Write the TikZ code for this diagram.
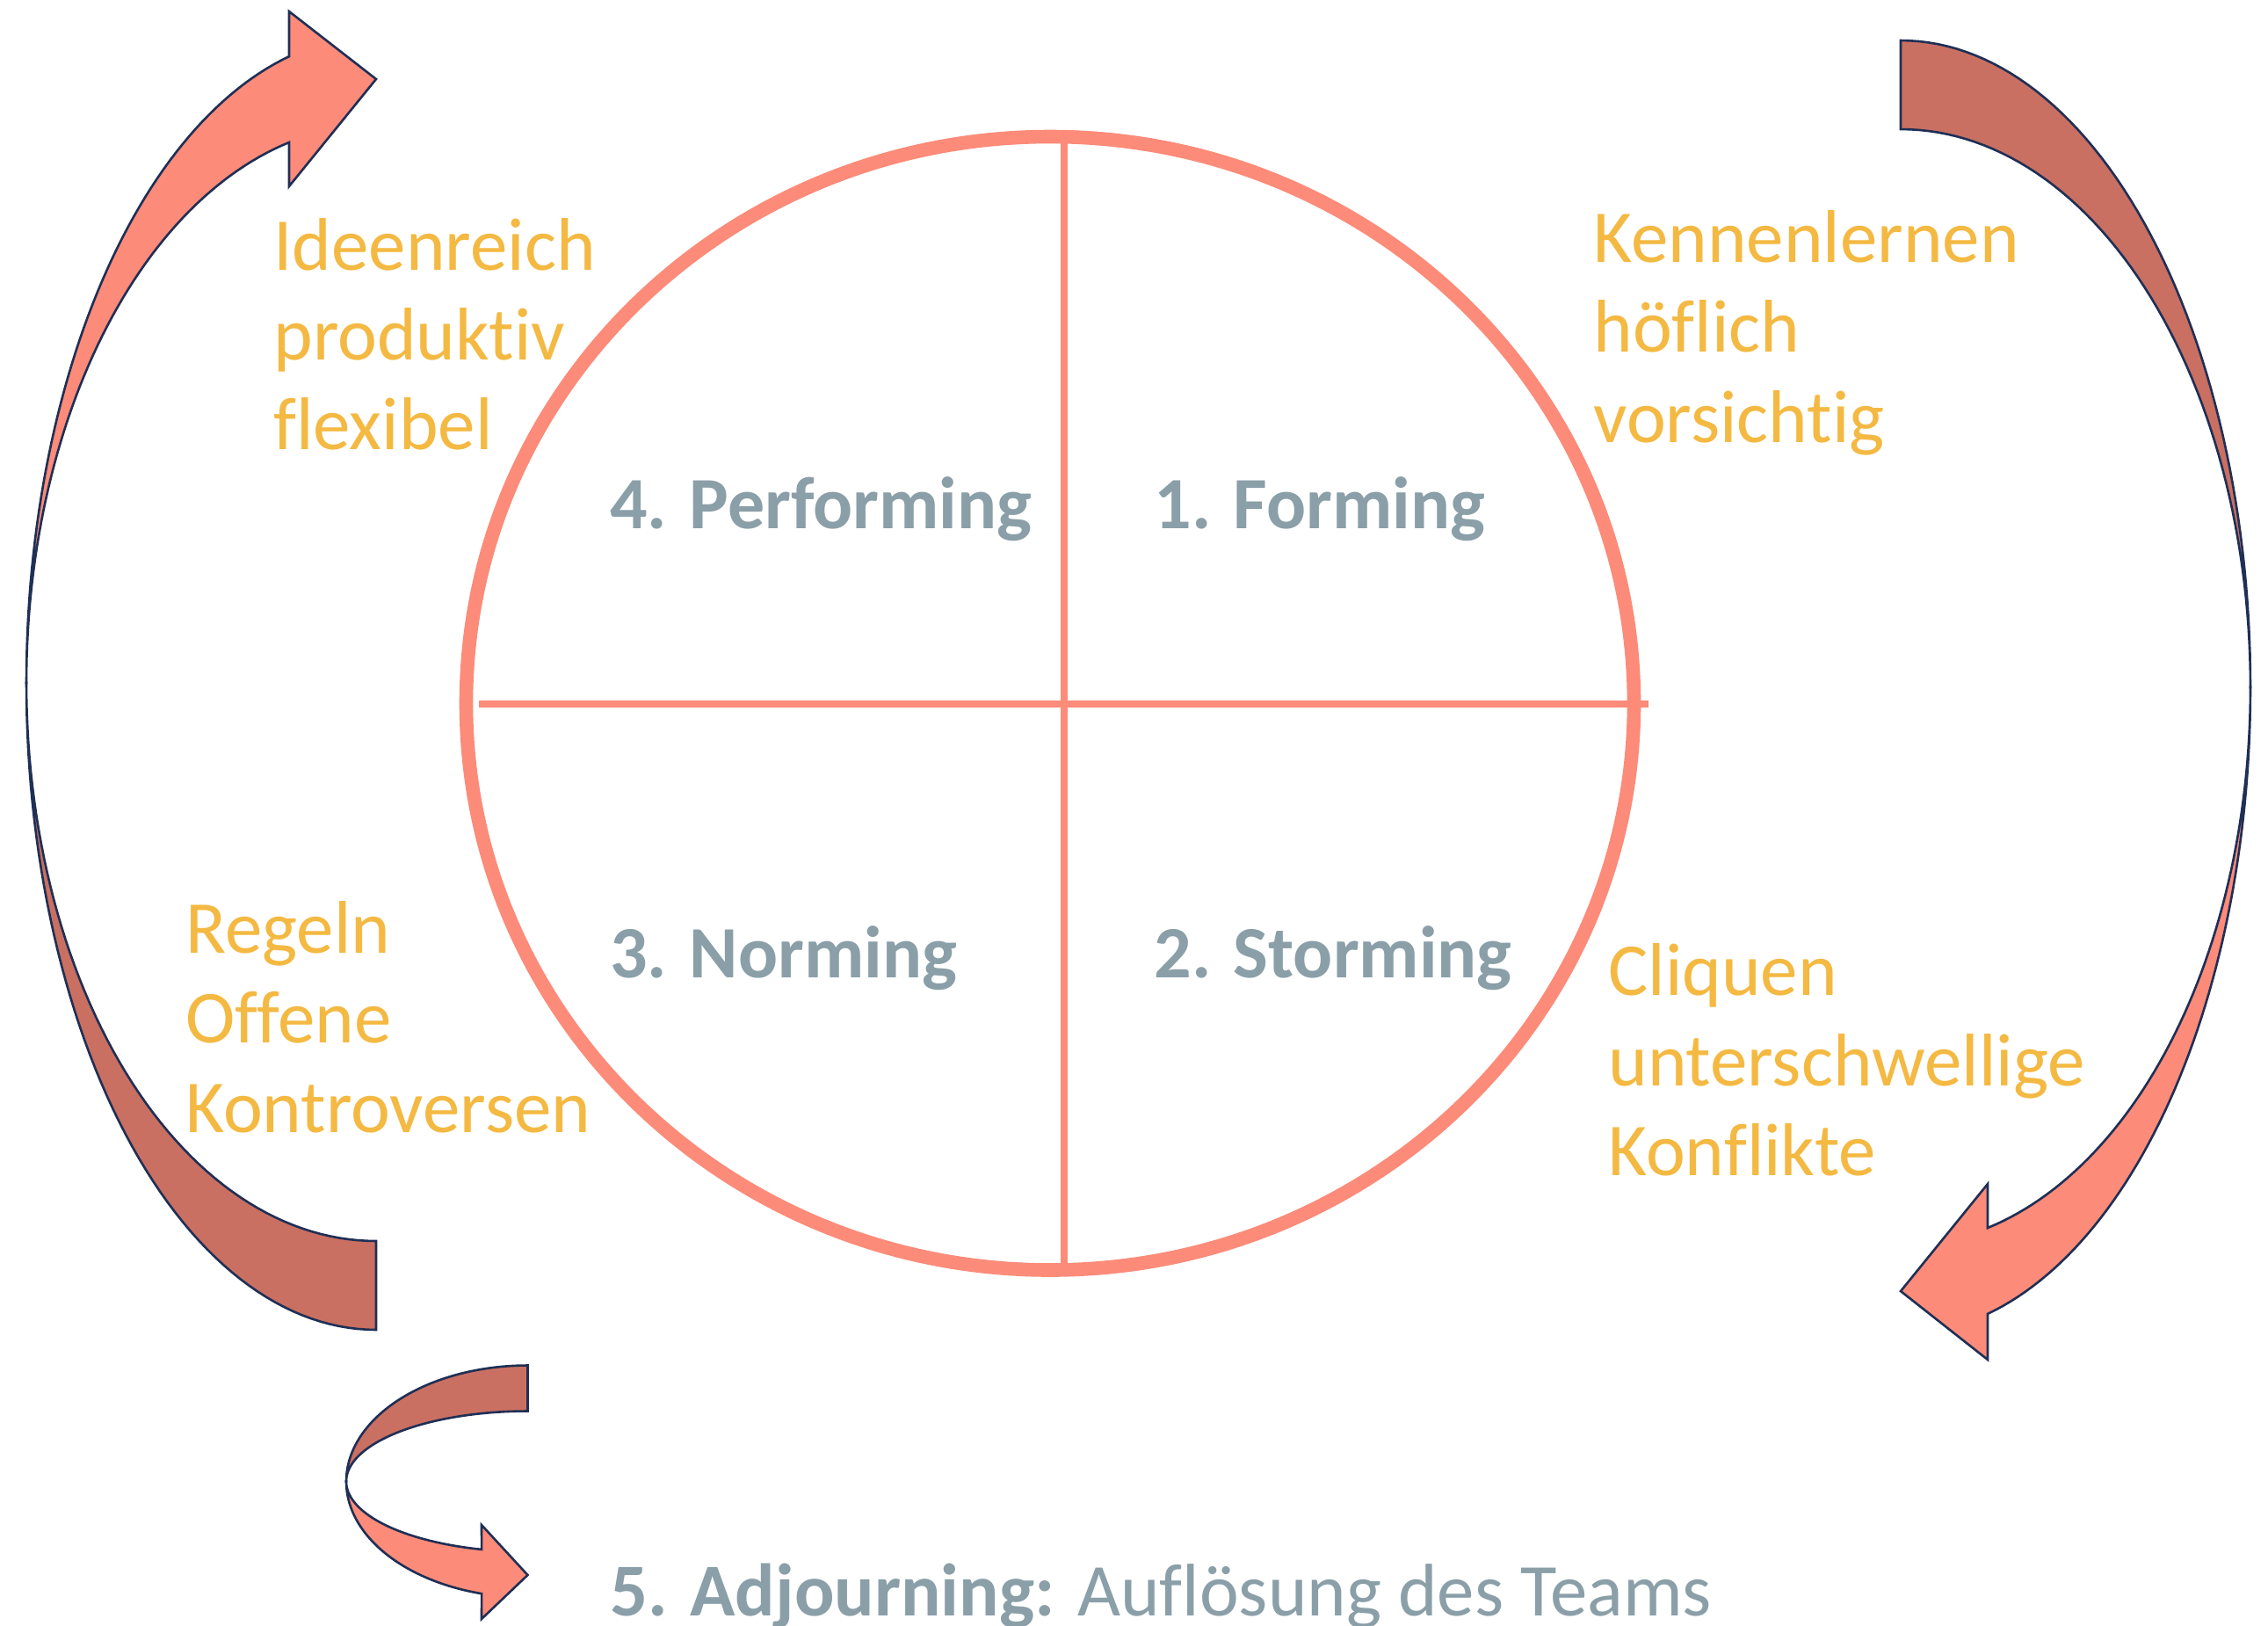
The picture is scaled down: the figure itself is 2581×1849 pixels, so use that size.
\documentclass[tikz,border=0pt]{standalone}
\usepackage{fontspec}
\setmainfont{Carlito}[Ligatures={NoCommon}]
\definecolor{salmon}{HTML}{FC8B79}
\definecolor{rust}{HTML}{C97062}
\definecolor{navy}{HTML}{1F2F55}
\definecolor{amber}{HTML}{F4B942}
\definecolor{slate}{HTML}{8A9FA8}
\tikzset{
  ring/.style={draw=salmon, line width=7.8pt},
  cross/.style={draw=salmon, line width=4pt},
  band/.style={draw=navy, line width=1.3pt, line join=miter},
  phase/.style={text=slate, font=\fontsize{42}{50}\selectfont\bfseries, anchor=base west, inner sep=0pt},
  trait/.style={text=amber, font=\fontsize{42.5}{51}\selectfont, anchor=base west, inner sep=0pt},
}
\begin{document}
\begin{tikzpicture}[x=0.5pt, y=-0.5pt]
\fill[white] (0,0) rectangle (2581,1849);
\useasboundingbox (0,0) rectangle (2581,1849);

% central circle and cross
\draw[ring] (1195,800.25) ellipse [x radius=332.25pt, y radius=322.375pt];
\coordinate (hl) at (545,801);
\coordinate (hr) at (1876,801);
\coordinate (vt) at (1211,158);
\coordinate (vb) at (1211,1443);
\draw[cross] (hl) -- (hr);
\draw[cross] (vt) -- (vb);

% phase labels
\node[phase] (perf) at (694,601) {4. Performing};
\node[phase] (form) at (1313,601) {1. Forming};
\node[phase] (norm) at (694,1112.6) {3. Norming};
\node[phase] (storm) at (1313,1112.6) {2. Storming};
\node[phase, font=\fontsize{42.4}{50}\selectfont\bfseries] (adj) at (694,1838) {5. Adjourning: \mdseries Auflösung des Teams};

% traits
\node[trait] (a1) at (311,307.6) {Ideenreich};
\node[trait] (a2) at (311,409.7) {produktiv};
\node[trait] (a3) at (311,511.7) {flexibel};
\node[trait] (b1) at (1813,298.3) {Kennenlernen};
\node[trait] (b2) at (1813,400.7) {höflich};
\node[trait] (b3) at (1813,503.3) {vorsichtig};
\node[trait] (c1) at (211,1084.7) {Regeln};
\node[trait] (c2) at (211,1186.7) {Offene};
\node[trait] (c3) at (211,1288.8) {Kontroversen};
\node[trait] (d1) at (1830,1132.7) {Cliquen};
\node[trait] (d2) at (1830,1235) {unterschwellige};
\node[trait] (d3) at (1830,1337.3) {Konflikte};

% left curved arrow (upwards)
\draw[band, fill=rust]
  plot[domain=90:180, samples=60, variable=\t] ({428+398*cos(\t)},{777+736*sin(\t)})
  -- plot[domain=180:90, samples=60, variable=\t] ({428+398*cos(\t)},{777+635*sin(\t)})
  -- cycle;
\draw[band, fill=salmon]
  plot[domain=180:255.6, samples=60, variable=\t] ({428+398*cos(\t)},{777+736*sin(\t)})
  -- (329,13) -- (428,90) -- (329,212)
  -- plot[domain=255.6:180, samples=60, variable=\t] ({428+398*cos(\t)},{777+635*sin(\t)})
  -- cycle;

% right curved arrow (downwards)
\draw[band, fill=rust]
  plot[domain=270:360, samples=60, variable=\t] ({2163+398*cos(\t)},{782+736*sin(\t)})
  -- plot[domain=360:270, samples=60, variable=\t] ({2163+398*cos(\t)},{782+635*sin(\t)})
  -- cycle;
\draw[band, fill=salmon]
  plot[domain=0:75.6, samples=60, variable=\t] ({2163+398*cos(\t)},{782+736*sin(\t)})
  -- (2262,1547) -- (2163,1469) -- (2262,1347)
  -- plot[domain=75.6:0, samples=60, variable=\t] ({2163+398*cos(\t)},{782+635*sin(\t)})
  -- cycle;

% small bottom arrow
\draw[band, fill=rust]
  plot[domain=270:180, samples=50, variable=\t] ({600.5+206.5*cos(\t)},{1685.5+132*sin(\t)})
  -- plot[domain=180:270, samples=50, variable=\t] ({600.5+206.5*cos(\t)},{1685.5+80*sin(\t)})
  -- cycle;
\draw[band, fill=salmon]
  plot[domain=180:104.7, samples=50, variable=\t] ({600.5+206.5*cos(\t)},{1685.5+132*sin(\t)})
  -- (548,1842) -- (600.5,1792) -- (548,1735)
  -- plot[domain=104.7:180, samples=50, variable=\t] ({600.5+206.5*cos(\t)},{1685.5+80*sin(\t)})
  -- cycle;
\end{tikzpicture}
\end{document}
